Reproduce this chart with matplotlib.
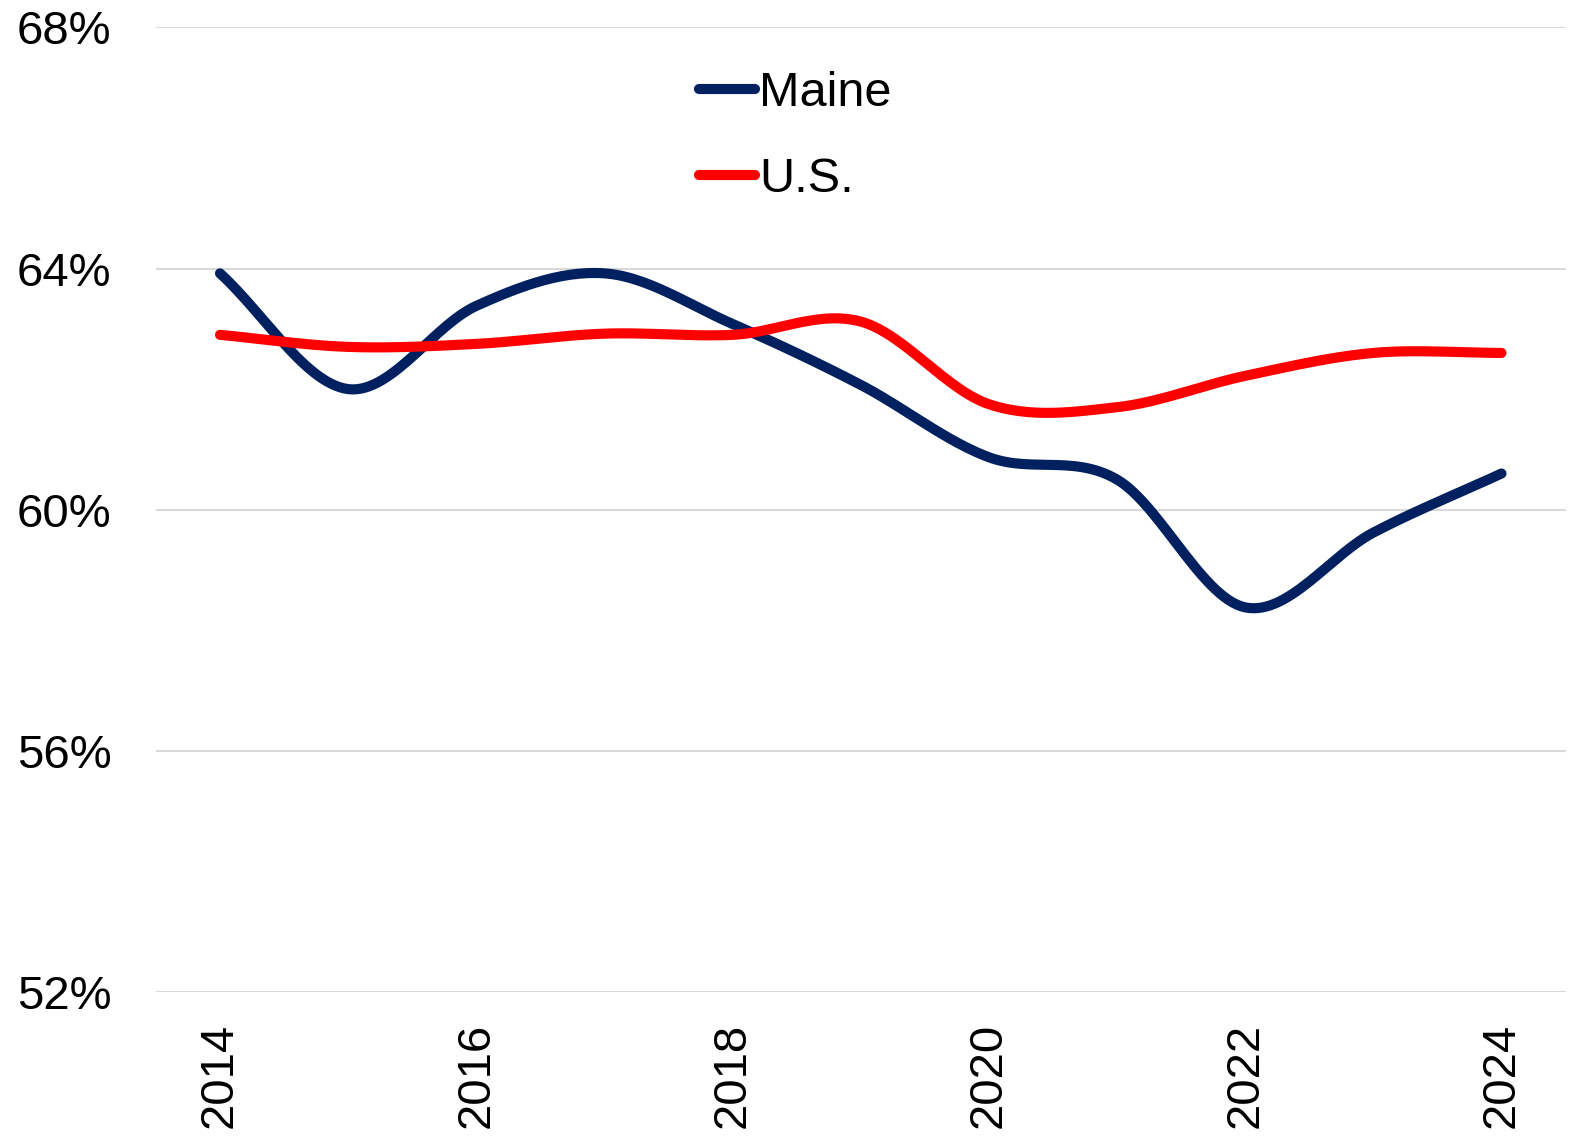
import numpy as np
import matplotlib
matplotlib.use("Agg")
import matplotlib.pyplot as plt
from matplotlib.ticker import FixedLocator, FuncFormatter

years = [2014, 2015, 2016, 2017, 2018, 2019, 2020, 2021, 2022, 2023, 2024]
maine = [63.92, 62.0, 63.38, 63.92, 63.08, 62.07, 60.87, 60.5, 58.38, 59.62, 60.6]
us = [62.9, 62.7, 62.75, 62.92, 62.9, 63.12, 61.75, 61.7, 62.22, 62.6, 62.6]
xtick_labels = ["2014", "2016", "2018", "2020", "2022", "2024"]
ytick_values = [52, 56, 60, 64, 68]

plt.rcParams['font.family'] = ['Liberation Sans', 'DejaVu Sans']


def smooth(x, y, n=30):
    # Catmull-Rom curve through the data points (visual smoothing like Excel)
    x = np.asarray(x, float); y = np.asarray(y, float)
    px = np.concatenate([[2 * x[0] - x[1]], x, [2 * x[-1] - x[-2]]])
    py = np.concatenate([[2 * y[0] - y[1]], y, [2 * y[-1] - y[-2]]])
    xs, ys = [], []
    t = np.linspace(0, 1, n, endpoint=False)
    for i in range(1, len(px) - 2):
        for arr, out in ((px, xs), (py, ys)):
            p0, p1, p2, p3 = arr[i - 1], arr[i], arr[i + 1], arr[i + 2]
            out.extend(0.5 * ((2 * p1) + (-p0 + p2) * t + (2 * p0 - 5 * p1 + 4 * p2 - p3) * t ** 2
                              + (-p0 + 3 * p1 - 3 * p2 + p3) * t ** 3))
    xs.append(x[-1]); ys.append(y[-1])
    return np.array(xs), np.array(ys)


fig = plt.figure(figsize=(15.75, 11.39), dpi=100)
ax = fig.add_axes([0.099, 0.129, 0.895, 0.847])

mx, my = smooth(years, maine)
ux, uy = smooth(years, us)
ax.plot(mx, my, color='#002060', lw=7.3, solid_capstyle='round', label='Maine', zorder=3)
ax.plot(ux, uy, color='#FF0000', lw=7.3, solid_capstyle='round', label='U.S.', zorder=3)

ax.set_xlim(2013.5, 2024.5)
ax.set_ylim(52, 68)
ax.yaxis.set_major_locator(FixedLocator(ytick_values))
ax.yaxis.set_major_formatter(FuncFormatter(lambda v, p: f"{int(v)}%"))
ax.set_xticks([int(s) for s in xtick_labels])
ax.set_xticklabels(xtick_labels, rotation=90)
ax.tick_params(axis='both', length=0, labelsize=34, colors='black')
ax.tick_params(axis='y', pad=32)
ax.tick_params(axis='x', pad=22)
ax.grid(axis='y', color='#D9D9D9', lw=1.5)
ax.set_axisbelow(True)
for s in ax.spines.values():
    s.set_visible(False)

leg = ax.legend(loc='upper left', bbox_to_anchor=(0.354, 1.0), frameon=False,
                fontsize=35, handlelength=1.15, handletextpad=0.1, labelspacing=0.85)

fig.savefig('out.png', dpi=100, facecolor='white')
